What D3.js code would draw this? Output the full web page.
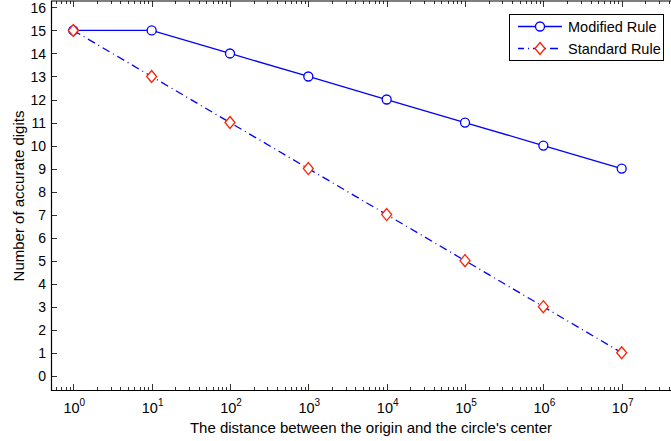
<!DOCTYPE html>
<html>
<head>
<meta charset="utf-8">
<script src="https://cdn.jsdelivr.net/npm/d3@7"></script>
<style>
  body { margin: 0; background: #fff; }
  text { font-family: "Liberation Sans", Arial, Helvetica, sans-serif; fill: #000; }
</style>
</head>
<body>
<div id="chart"></div>
<script>
// Data
var distances = [1e0, 1e1, 1e2, 1e3, 1e4, 1e5, 1e6, 1e7];
var modifiedRule = [15, 15, 14, 13, 12, 11, 10, 9];
var standardRule = [15, 13, 11, 9, 7, 5, 3, 1];
var yTicks = [0, 1, 2, 3, 4, 5, 6, 7, 8, 9, 10, 11, 12, 13, 14, 15, 16];
var xExponents = [0, 1, 2, 3, 4, 5, 6, 7];
var seriesNames = ["Modified Rule", "Standard Rule"];

var svgWidth = 671;
var svgHeight = 441;

// plot box (the right and top edges run past the picture)
var box = { left: 51, top: 1, right: 691, bottom: 390 };

var svg = d3.select("#chart")
  .append("svg")
  .attr("width", svgWidth)
  .attr("height", svgHeight);

var x = d3.scaleLog()
  .domain([0.519, 7.67e7])
  .range([box.left, box.right]);

var y = d3.scaleLinear()
  .domain([-0.62, 16.28])
  .range([box.bottom, box.top]);

var axisG = svg.append("g");

// axis lines
axisG.append("line")
  .attr("x1", box.left).attr("x2", box.right)
  .attr("y1", box.bottom + 0.5).attr("y2", box.bottom + 0.5)
  .attr("stroke", "#000").attr("stroke-width", 1.2);
axisG.append("line")
  .attr("x1", box.left).attr("x2", box.right)
  .attr("y1", box.top).attr("y2", box.top)
  .attr("stroke", "#000").attr("stroke-width", 1.2);
axisG.append("line")
  .attr("x1", box.left + 0.5).attr("x2", box.left + 0.5)
  .attr("y1", box.top).attr("y2", box.bottom + 1)
  .attr("stroke", "#000").attr("stroke-width", 1.2);

// x ticks, major and minor, bottom and top
var minorTicks = [];
for (var e = -1; e <= 7; e++) {
  for (var k = 2; k <= 9; k++) {
    var v = k * Math.pow(10, e);
    if (v > x.domain()[0] && v < x.domain()[1]) minorTicks.push(v);
  }
}
var majorTicks = xExponents.map(d => Math.pow(10, d));

[box.bottom, box.top].forEach(function (yy, i) {
  var dir = i == 0 ? -1 : 1;
  axisG.selectAll(null)
    .data(minorTicks)
    .enter()
    .append("line")
    .attr("x1", d => Math.round(x(d)) + 0.5)
    .attr("x2", d => Math.round(x(d)) + 0.5)
    .attr("y1", yy)
    .attr("y2", yy + dir * 3)
    .attr("stroke", "#000")
    .attr("stroke-width", 0.8);
  axisG.selectAll(null)
    .data(majorTicks)
    .enter()
    .append("line")
    .attr("x1", d => Math.round(x(d)) + 0.5)
    .attr("x2", d => Math.round(x(d)) + 0.5)
    .attr("y1", yy)
    .attr("y2", yy + dir * 6)
    .attr("stroke", "#000")
    .attr("stroke-width", 0.8);
});

// y ticks
axisG.selectAll(null)
  .data(yTicks)
  .enter()
  .append("line")
  .attr("x1", box.left)
  .attr("x2", box.left + 6)
  .attr("y1", d => Math.round(y(d)) + 0.5)
  .attr("y2", d => Math.round(y(d)) + 0.5)
  .attr("stroke", "#000")
  .attr("stroke-width", 0.8);

axisG.selectAll(null)
  .data(yTicks)
  .enter()
  .append("text")
  .attr("x", 46)
  .attr("y", d => y(d))
  .attr("dy", "0.36em")
  .attr("text-anchor", "end")
  .attr("font-size", "14px")
  .text(d => d);

// x tick labels as 10^n
var xLabels = axisG.selectAll(null)
  .data(xExponents)
  .enter()
  .append("text")
  .attr("x", d => x(Math.pow(10, d)) + 1)
  .attr("y", 413)
  .attr("text-anchor", "middle")
  .attr("font-size", "14.5px");
xLabels.append("tspan").text("10");
xLabels.append("tspan")
  .attr("dy", -7)
  .attr("font-size", "10px")
  .text(d => d);

// axis titles
svg.append("text")
  .attr("x", 371)
  .attr("y", 433)
  .attr("text-anchor", "middle")
  .attr("font-size", "15px")
  .text("The distance between the origin and the circle's center");

svg.append("text")
  .attr("transform", "translate(24, 196) rotate(-90)")
  .attr("text-anchor", "middle")
  .attr("font-size", "15px")
  .text("Number of accurate digits");

// lines
var plotG = svg.append("g");

var modData = distances.map((d, i) => [d, modifiedRule[i]]);
var stdData = distances.map((d, i) => [d, standardRule[i]]);

var lineGen = d3.line()
  .x(d => x(d[0]))
  .y(d => y(d[1]));

plotG.append("path")
  .attr("d", lineGen(modData))
  .attr("fill", "none")
  .attr("stroke", "#0000ff")
  .attr("stroke-width", 1.3);

plotG.append("path")
  .attr("d", lineGen(stdData))
  .attr("fill", "none")
  .attr("stroke", "#0000ff")
  .attr("stroke-width", 1.3)
  .attr("stroke-dasharray", "8,4,1,4");

function diamond(cx, cy) {
  var w = 5, h = 6;
  return `M${cx},${cy - h}L${cx + w},${cy}L${cx},${cy + h}L${cx - w},${cy}Z`;
}

plotG.selectAll("circle.mod")
  .data(modData)
  .enter()
  .append("circle")
  .attr("class", "mod")
  .attr("cx", d => x(d[0]))
  .attr("cy", d => y(d[1]))
  .attr("r", 4.5)
  .attr("fill", "#fff")
  .attr("stroke", "#0000ff")
  .attr("stroke-width", 1.3);

plotG.selectAll("path.std")
  .data(stdData)
  .enter()
  .append("path")
  .attr("class", "std")
  .attr("d", d => diamond(x(d[0]), y(d[1])))
  .attr("fill", "#fff")
  .attr("stroke", "#ff2000")
  .attr("stroke-width", 1.3);

// legend
var legend = svg.append("g");
legend.append("rect")
  .attr("x", 509.5).attr("y", 14.5)
  .attr("width", 154).attr("height", 46)
  .attr("fill", "#fff")
  .attr("stroke", "#000")
  .attr("stroke-width", 1);

var legendRows = [26.5, 48.5];
seriesNames.forEach(function (name, i) {
  var ly = legendRows[i];
  legend.append("line")
    .attr("x1", 518).attr("x2", 562)
    .attr("y1", ly).attr("y2", ly)
    .attr("stroke", "#0000ff")
    .attr("stroke-width", 1.3)
    .attr("stroke-dasharray", i == 0 ? null : "8,4,1,4")
    .attr("stroke-dashoffset", i == 0 ? null : 2);
  if (i == 0) {
    legend.append("circle")
      .attr("cx", 540).attr("cy", ly).attr("r", 4.5)
      .attr("fill", "#fff").attr("stroke", "#0000ff").attr("stroke-width", 1.3);
  } else {
    legend.append("path")
      .attr("d", diamond(540, ly))
      .attr("fill", "#fff").attr("stroke", "#ff2000").attr("stroke-width", 1.3);
  }
  legend.append("text")
    .attr("x", 568)
    .attr("y", ly)
    .attr("dy", "0.36em")
    .attr("font-size", "14.5px")
    .text(name);
});
</script>
</body>
</html>
